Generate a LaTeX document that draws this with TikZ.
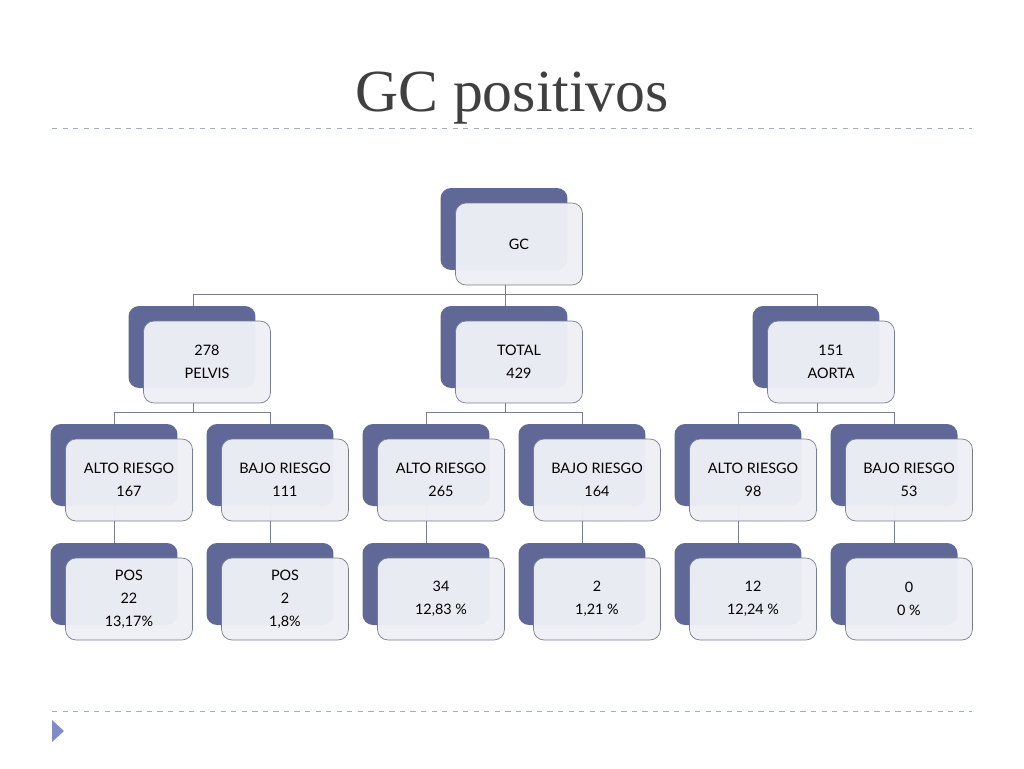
\documentclass[tikz,border=0pt]{standalone}
\usepackage{fontspec}
\setmainfont{Lato}
\newfontfamily\titlefont{Liberation Serif}
\usetikzlibrary{positioning,calc}
\definecolor{backblue}{RGB}{95,104,150}
\definecolor{frontgray}{RGB}{238,240,245}
\definecolor{linegray}{RGB}{120,126,140}
\definecolor{dashgray}{RGB}{160,175,185}
\tikzset{
  backbox/.style={draw=none, fill=backblue, rounded corners=6pt,
    minimum width=2.54cm, minimum height=1.64cm},
  frontbox/.style={draw=linegray, fill=frontgray, fill opacity=0.97,
    text opacity=1, rounded corners=6pt, minimum width=2.54cm,
    minimum height=1.64cm, align=center, font=\fontsize{8.2}{13}\selectfont},
  link/.style={draw=linegray, line width=0.5pt}
}
% box with dark shadow behind, named <name>b and <name>
\newcommand{\orgbox}[4]{%
  \node[backbox] (#1b) at (#2,#3) {};
  \node[frontbox, below right=0.3cm and 0.3cm of #1b.center, anchor=center] (#1) {#4};
}
\begin{document}
\begin{tikzpicture}[x=0.02cm, y=-0.02cm]
  \useasboundingbox[fill=white] (0,0) rectangle (1024,768);
  \node[font=\titlefont\fontsize{34}{40}\selectfont, text=black!75] (title) at (512,98) {GC positivos};
  \draw[dashgray, dashed] (52,128) -- (972,128);
  \draw[dashgray, dashed] (52,711) -- (972,711);
  \fill[dashgray!80!blue] (52,720) -- (64,731) -- (52,742) -- cycle;

  % lines first, boxes cover them
  \coordinate (r0) at (505,283);
  \coordinate (h0) at (505,294);
  \draw[link] (r0) -- (h0) (193,294) -- (817,294)
    (193,294) -- (193,306) (505,294) -- (505,306) (817,294) -- (817,306);
  \foreach \p/\a/\b in {193/114/270, 505/426/582, 817/738/894} {
    \draw[link] (\p,402) -- (\p,412) (\a,412) -- (\b,412)
      (\a,412) -- (\a,424) (\b,412) -- (\b,424);
  }
  \foreach \x in {114,270,426,582,738,894} {
    \draw[link] (\x,506) -- (\x,543);
  }

  \orgbox{gc}{504}{229}{GC}
  \orgbox{pelvis}{192}{347}{278\\PELVIS}
  \orgbox{total}{504}{347}{TOTAL\\429}
  \orgbox{aorta}{816}{347}{151\\AORTA}
  \orgbox{paltob}{114}{465}{ALTO RIESGO\\167}
  \orgbox{pbajo}{270}{465}{BAJO RIESGO\\111}
  \orgbox{taltob}{426}{465}{ALTO RIESGO\\265}
  \orgbox{tbajo}{582}{465}{BAJO RIESGO\\164}
  \orgbox{aaltob}{738}{465}{ALTO RIESGO\\98}
  \orgbox{abajo}{894}{465}{BAJO RIESGO\\53}
  \orgbox{palpos}{114}{584}{POS\\22\\13,17\%}
  \orgbox{pbapos}{270}{584}{POS\\2\\1,8\%}
  \orgbox{talpos}{426}{584}{34\\12,83 \%}
  \orgbox{tbapos}{582}{584}{2\\1,21 \%}
  \orgbox{aalpos}{738}{584}{12\\12,24 \%}
  \orgbox{abapos}{894}{584}{0\\0 \%}
\end{tikzpicture}
\end{document}
